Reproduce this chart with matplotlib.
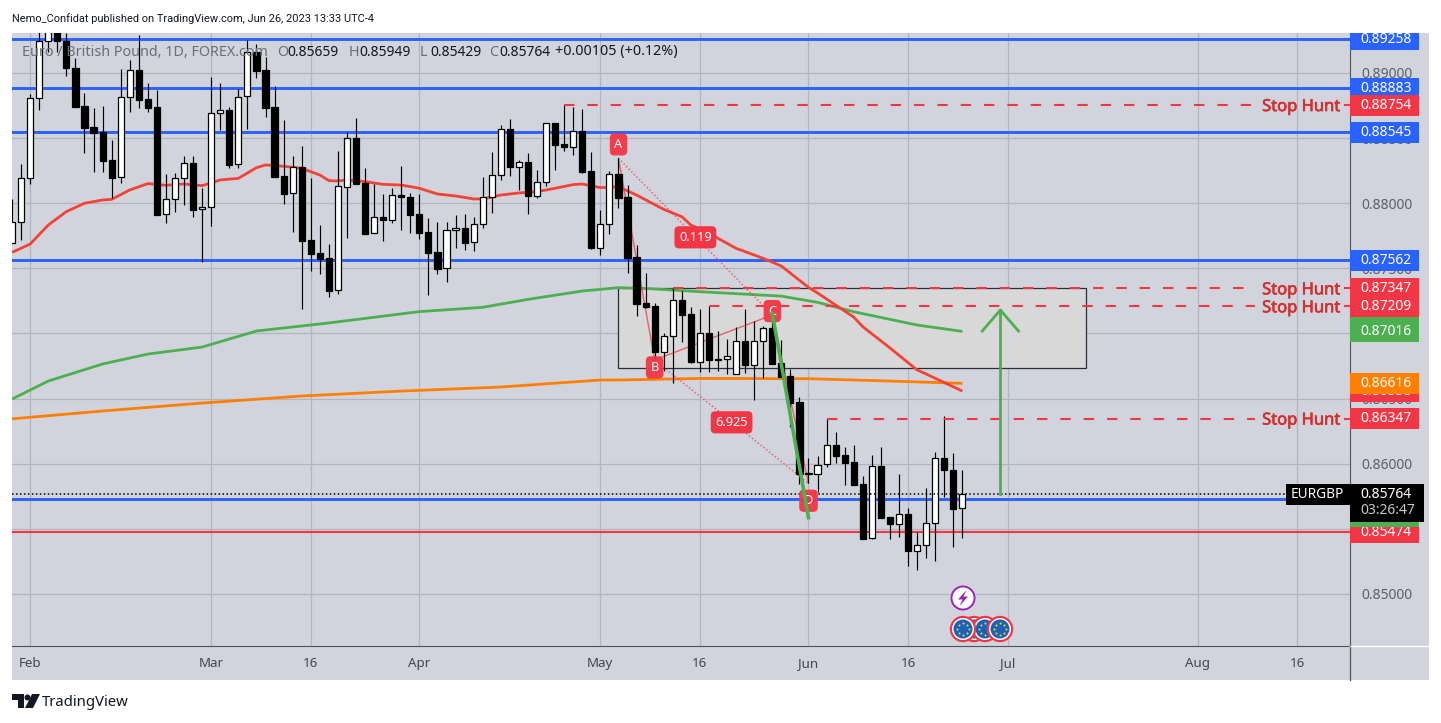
#!/usr/bin/env python3
"""EUR/GBP daily chart, TradingView style."""
import matplotlib
matplotlib.use("Agg")
import matplotlib.patheffects as pe  # noqa: E402
import matplotlib.pyplot as plt  # noqa: E402
from matplotlib.patches import Circle, Polygon, Rectangle  # noqa: E402
import numpy as np  # noqa: E402
import pandas as pd  # noqa: E402

W, H = 1441, 723
BG = "#D1D4DC"
GRID = "#B2B5BE"
AXIS = "#50535E"
BLUE = "#2962FF"
RED = "#F23645"
GREEN = "#4CAF50"
ORANGE = "#FF7F00"
FONT = "Noto Sans"

# all prices below in 1e-5 (pips / 10)
bar_open = [87692, 87854, 88191, 88806, 89243, 89330, 89243, 89036, 88744, 88583, 88547, 88330, 88199, 88813,
            89021, 88798, 88737, 87915, 88030, 88191, 88307, 87953, 87969, 88690, 88714, 88299, 88821, 89159,
            89021, 88737, 88209, 88076, 88278, 87718, 87618, 87580, 87334, 88127, 88498, 88153, 87769, 87892,
            87869, 88066, 88045, 87915, 87777, 87623, 87500, 87792, 87807, 87700, 87838, 88045, 88214, 88568,
            88281, 88314, 88058, 88161, 88614, 88452, 88434, 88552, 88245, 87659, 87838, 88222, 88045, 87585,
            87232, 87209, 86860, 86978, 87254, 87147, 86783, 87001, 86801, 86801, 86686, 86939, 86760, 86939,
            87039, 86770, 86671, 86471, 85926, 85918, 85995, 86141, 86064, 86010, 85842, 85427, 85980, 85588,
            85540, 85611, 85332, 85373, 85542, 86041, 85952, 85659]
bar_high = [88033, 88302, 88839, 89380, 89400, 89420, 89305, 89113, 88844, 88729, 88747, 88486, 89028, 89100,
            89292, 88921, 88870, 88225, 88235, 88363, 88363, 88120, 88967, 88921, 88737, 88875, 89253, 89223,
            89126, 88900, 88639, 88363, 88440, 88194, 87833, 87687, 88401, 88550, 88652, 88268, 88148, 88071,
            88115, 88286, 88076, 88068, 87884, 87856, 87856, 87907, 87918, 87895, 88199, 88394, 88601, 88647,
            88332, 88383, 88255, 88614, 88614, 88754, 88736, 88721, 88394, 87948, 88248, 88345, 88140, 87680,
            87465, 87232, 87001, 87346, 87328, 87200, 87185, 87213, 87019, 86955, 87047, 87185, 87095, 87057,
            87142, 86950, 86730, 86509, 86041, 86059, 86353, 86241, 86126, 86141, 85906, 86067, 86128, 85588,
            85921, 85657, 85478, 85811, 86090, 86366, 86082, 85949]
bar_low = [87692, 87718, 88148, 88716, 89164, 89164, 88980, 88742, 88389, 88243, 88243, 88038, 88158, 88703,
           88729, 88703, 87907, 87846, 87936, 87987, 87897, 87552, 87828, 88563, 88273, 88273, 88573, 88964,
           88665, 88204, 87994, 87782, 87191, 87483, 87457, 87283, 87303, 87731, 88150, 87766, 87769, 87713,
           87851, 87795, 87774, 87723, 87298, 87460, 87398, 87659, 87641, 87634, 87810, 87928, 88179, 88209,
           88102, 87918, 88043, 88133, 88255, 88401, 88370, 88235, 87651, 87603, 87764, 87966, 87467, 87137,
           87193, 86797, 86712, 86622, 86937, 86776, 86707, 86707, 86714, 86689, 86686, 86694, 86489, 86660,
           86768, 86668, 86284, 85842, 85849, 85785, 85977, 86008, 85836, 85839, 85419, 85419, 85586, 85419,
           85440, 85217, 85184, 85279, 85256, 85742, 85363, 85429]
bar_close = [87854, 88191, 88806, 89243, 89330, 89243, 89036, 88742, 88580, 88542, 88327, 88197, 88813, 89021,
             88795, 88734, 87913, 88030, 88191, 88307, 87951, 87969, 88690, 88714, 88296, 88818, 89159, 89018,
             88734, 88204, 88074, 88276, 87713, 87613, 87575, 87329, 88133, 88498, 88150, 87766, 87892, 87869,
             88066, 88045, 87912, 87774, 87621, 87498, 87792, 87807, 87697, 87838, 88045, 88214, 88568, 88281,
             88314, 88058, 88161, 88614, 88447, 88434, 88552, 88240, 87659, 87838, 88222, 88043, 87582, 87229,
             87204, 86861, 86978, 87254, 87144, 86783, 87001, 86799, 86799, 86824, 86939, 86760, 86939, 87039,
             86768, 86668, 86469, 85923, 85921, 85993, 86141, 86062, 86008, 85839, 85424, 85980, 85586, 85540,
             85611, 85332, 85373, 85542, 86041, 85949, 85655, 85764]
FIRST_BAR = "2023-01-30"

tick_dates = ["2023-02-01", "2023-03-01", "2023-03-16", "2023-04-03", "2023-05-01", "2023-05-16",
              "2023-06-01", "2023-06-16", "2023-07-03", "2023-08-01", "2023-08-16"]
tick_labels = ["Feb", "Mar", "16", "Apr", "May", "16", "Jun", "16", "Jul", "Aug", "16"]
price_ticks = [85000, 85500, 86000, 86500, 87000, 87500, 88000, 88500, 89000]

# moving averages: bar number counted from Feb 1
red_ma_bars = [-2, 0, 2, 4, 6, 8, 9, 11, 13, 15, 17, 19, 21, 23, 25, 26, 28, 30, 32, 33, 34, 35, 37, 39, 41, 43, 45,
               47, 49, 50, 52, 54, 56, 58, 60, 61, 63, 65, 67, 70, 72, 73, 75, 78, 81, 83, 86, 87, 91, 92, 95, 98,
               99, 103]
red_ma = [87623, 87687, 87833, 87936, 88000, 88025, 88030, 88102, 88151, 88138, 88148, 88135, 88179, 88191, 88273,
          88294, 88284, 88268, 88217, 88174, 88171, 88179, 88166, 88145, 88140, 88115, 88071, 88056, 88033, 88033,
          88063, 88079, 88089, 88115, 88143, 88148, 88120, 88127, 88063, 87953, 87897, 87833, 87769, 87654, 87577,
          87518, 87354, 87311, 87126, 87052, 86889, 86720, 86689, 86558]
green_ma_bars = [-2, 2, 8, 13, 19, 25, 33, 43, 50, 55, 61, 65, 68, 74, 83, 87, 91, 98, 103]
green_ma = [86497, 86635, 86766, 86842, 86896, 87019, 87081, 87168, 87201, 87262, 87326, 87352, 87346, 87321,
            87287, 87239, 87167, 87065, 87016]
orange_ma_bars = [-2, 8, 19, 30, 41, 52, 63, 65, 74, 86, 95, 103]
orange_ma = [86345, 86405, 86466, 86520, 86558, 86589, 86643, 86643, 86655, 86653, 86635, 86617]

blue_levels = [89258, 88883, 88545, 87562, 85729]
support_level = 85474
last_price = 85764

stop_hunt_levels = [88754, 87347, 87209, 86347]
stop_hunt_bars = [59, 71, 75, 88]

box_bars = [65, 116.7]
box_prices = [86735, 87347]

abcd_bars = [65, 69, 82, 86]
abcd_prices = [88345, 86797, 87142, 85849]
abcd_names = ["A", "B", "C", "D"]
abcd_label_prices = [88452, 86740, 87172, 85716]
ratio_labels = ["0.119", "6.925"]

drop_bars = [82, 86]
drop_prices = [87155, 85586]
arrow_bars = [107.2, 107.2]
arrow_prices = [85764, 87180]
arrow_head_bars = [105.2, 107.2, 109.2]
arrow_head_prices = [87019, 87180, 87019]

# (value, colour) in paint order, later ones cover earlier ones
price_tags = [(89258, BLUE), (88883, BLUE), (88754, RED), (88545, BLUE), (87562, BLUE), (87180, GREEN),
              (87016, GREEN), (87347, RED), (87209, RED), (86558, RED), (86616, ORANGE), (86347, RED),
              (85474, RED), (85594, GREEN)]


def pr(v):
    return np.asarray(v) * 1e-5


bars = pd.bdate_range(FIRST_BAR, periods=160)
FEB1 = bars.get_loc(pd.Timestamp("2023-02-01"))
X0, BAR_PX = 30.2, 9.05  # pixel of Feb 1, pixels per bar
PY_SCALE = 13025.0  # pixels per price unit


def b2x(i):
    return np.asarray(i, dtype=float) + FEB1


def px2x(px):
    return (px - X0) / BAR_PX + FEB1


def y2p(y):
    return 0.89 - (y - 73) / PY_SCALE


def rect_px(l, t, r, b):
    return [l / W, 1 - b / H, (r - l) / W, (b - t) / H]


fig = plt.figure(figsize=(W / 100, H / 100), dpi=100, facecolor="white")
fig.add_artist(Rectangle((12 / W, 1 - 680 / H), 1417 / W, 647 / H, transform=fig.transFigure, fc=BG, ec="none", zorder=-5))

ax = fig.add_axes(rect_px(12, 33, 1350, 645.5), facecolor=BG)
ax.set_xlim(px2x(12), px2x(1350))
ax.set_ylim(y2p(645.5), y2p(33))
for s in ("top", "left"):
    ax.spines[s].set_visible(False)
ax.spines["right"].set_color(AXIS)
ax.spines["bottom"].set_color(AXIS)
ax.yaxis.tick_right()
ax.set_yticks(pr(price_ticks))
ax.set_yticklabels([f"{p * 1e-5:.5f}" for p in price_ticks], fontsize=10.0, color="#5D606B", family=FONT)
ax.tick_params(axis="y", length=0, pad=8)
ax.set_xticks([bars.get_loc(pd.Timestamp(d)) for d in tick_dates])
ax.set_xticklabels(tick_labels, fontsize=9.6, color="#434651", family=FONT)
ax.tick_params(axis="x", length=0, pad=8)
ax.grid(color=GRID, lw=0.9, zorder=0)
ax.set_axisbelow(True)

# levels and zone
ax.add_patch(Rectangle((b2x(box_bars[0]), box_prices[0] * 1e-5), box_bars[1] - box_bars[0],
                       (box_prices[1] - box_prices[0]) * 1e-5, fc="#D8D8D8", ec="#2A2E39", lw=0.9, zorder=1))
for lv in blue_levels:
    ax.axhline(lv * 1e-5, color=BLUE, lw=2.1, zorder=2)
ax.axhline(support_level * 1e-5, color=RED, lw=1.5, zorder=2)

# moving averages
ax.plot(b2x(orange_ma_bars), pr(orange_ma), color=ORANGE, lw=2.0, zorder=2.5, solid_capstyle="butt")
ax.plot(b2x(green_ma_bars), pr(green_ma), color=GREEN, lw=2.0, zorder=2.5, solid_capstyle="butt")
ax.plot(b2x(red_ma_bars), pr(red_ma), color="#F44336", lw=2.0, zorder=2.5, solid_capstyle="butt")

# harmonic pattern
ax.plot(b2x(abcd_bars), pr(abcd_prices), color=RED, lw=1.0, alpha=0.75, zorder=2.6)
for a, b in ((0, 2), (1, 3)):
    ax.plot(b2x([abcd_bars[a], abcd_bars[b]]), pr([abcd_prices[a], abcd_prices[b]]), color=RED, lw=1.1, alpha=0.7,
            ls=(0, (1, 1.4)), zorder=2.6)

# candles
xs = np.arange(len(bar_open))
o, h, l, c = pr(bar_open), pr(bar_high), pr(bar_low), pr(bar_close)
ax.vlines(xs, l, h, color="black", lw=0.85, zorder=3)
up = c >= o
ax.bar(xs, np.abs(c - o), bottom=np.minimum(o, c), width=0.68, color=np.where(up, "white", "black"),
       edgecolor="black", lw=0.9, zorder=3.1)

ax.plot(b2x(drop_bars), pr(drop_prices), color=GREEN, lw=2.6, zorder=3.8)
ax.plot(b2x(arrow_bars), pr(arrow_prices), color=GREEN, lw=2.0, zorder=3.8)
ax.plot(b2x(arrow_head_bars), pr(arrow_head_prices), color=GREEN, lw=2.0, zorder=3.8)
ax.hlines(last_price * 1e-5, px2x(12), px2x(1286), color="black", lw=1.1, ls=(0, (1, 1.6)), zorder=3.2)

# stop hunt lines, broken around their text
for lv, start in zip(stop_hunt_levels, stop_hunt_bars):
    p = lv * 1e-5
    ax.plot([b2x(start), px2x(1255)], [p, p], color=RED, lw=1.5, ls=(0, (5, 6.2)), zorder=3.4)
    ax.plot([px2x(1345), px2x(1350)], [p, p], color=RED, lw=1.5, zorder=3.4)
    ax.text(px2x(1301), p, "Stop Hunt", color="#D32F2F", fontsize=11.9, family=FONT,
            ha="center", va="center_baseline", zorder=3.5,
            path_effects=[pe.withStroke(linewidth=0.45, foreground="#D32F2F")])

# pattern labels
for bar_no, lp, name in zip(abcd_bars, abcd_label_prices, abcd_names):
    ax.text(b2x(bar_no), lp * 1e-5, name, color="white", fontsize=9.2, family=FONT, ha="center", va="center",
            zorder=3.6, bbox=dict(boxstyle="round,pad=0.36,rounding_size=0.35", fc=RED, ec="none", alpha=0.95))
for (a, b), txt in zip(((0, 2), (1, 3)), ratio_labels):
    ax.text(b2x((abcd_bars[a] + abcd_bars[b]) / 2), (abcd_prices[a] + abcd_prices[b]) * 0.5e-5 - 0.00005, txt,
            color="white", fontsize=9.2, family=FONT, ha="center", va="center", zorder=3.6,
            bbox=dict(boxstyle="round,pad=0.36,rounding_size=0.35", fc=RED, ec="none"))

# price scale tags
axp = fig.add_axes(rect_px(1350, 33, 1429, 645.5), frameon=False, zorder=5)
axp.set_xlim(0, 79)
axp.set_ylim(ax.get_ylim())
axp.set_xticks([])
axp.set_yticks([])
TAG_H = 21 / PY_SCALE
for n, (value, col) in enumerate(price_tags):
    p = value * 1e-5
    axp.add_patch(Rectangle((0, p - TAG_H / 2), 69, TAG_H, fc=col, ec="none", zorder=10 + 2 * n))
    axp.text(10, p, f"{p:.5f}", color="white", fontsize=10.0, family=FONT, va="center", clip_on=True, zorder=11 + 2 * n)

# overlay in pixels: title, legend, icons, footer
ov = fig.add_axes([0, 0, 1, 1], frameon=False, zorder=6)
ov.set_xlim(0, W)
ov.set_ylim(H, 0)
ov.axis("off")

ov.text(12, 19, "Nemo_Confidat published on TradingView.com, Jun 26, 2023 13:33 UTC-4",
        family="Roboto", fontsize=7.95, color="#131722", va="center")
ov.text(22, 52, "Euro / British Pound, 1D, FOREX.com", family=FONT, fontsize=10.3, color="#6A6D78", va="center")
for x, k, val in ((277, "O", "0.85659"), (349, "H", "0.85949"), (420, "L", "0.85429"), (489, "C", "0.85764")):
    ov.text(x, 52, k, family=FONT, fontsize=10.3, color="#6A6D78", va="center")
    ov.text(x + 10, 52, val, family=FONT, fontsize=10.0, color="#131722", va="center")
ov.text(555, 52, "+0.00105 (+0.12%)", family=FONT, fontsize=10.3, color="#131722", va="center")

# axis lines that run past the plot
ov.plot([1350, 1350], [645, 680], color=AXIS, lw=0.9)
ov.plot([1350, 1429], [645.5, 645.5], color="white", lw=1.0)

# last price block
ov.add_patch(Rectangle((1286, 484), 64, 21, fc="black", ec="none"))
ov.add_patch(Rectangle((1350, 484), 74, 38, fc="black", ec="none"))
ov.text(1291, 494, "EURGBP", color="white", family=FONT, fontsize=9.8, va="center")
ov.text(1360, 494, "0.85764", color="white", family=FONT, fontsize=10.0, va="center")
ov.text(1360, 511, "03:26:47", color="#C8C8C8", family=FONT, fontsize=10.0, va="center")


def flag(cx, cy=629):
    ov.add_patch(Circle((cx, cy), 13.2, fc="#F23645", ec="none"))
    ov.add_patch(Circle((cx, cy), 11, fc="white", ec="none"))
    ov.add_patch(Circle((cx, cy), 9.5, fc="#1B62B5", ec="none"))
    ang = np.arange(8) * np.pi / 4
    ov.scatter(cx + 6 * np.cos(ang), cy + 6 * np.sin(ang), s=2.2, color="#F2D13C", linewidths=0)


for cx in (974, 985, 1000, 963):
    flag(cx)
ov.add_patch(Circle((963, 598), 13, fc="white", ec="none"))
ov.add_patch(Circle((963, 598), 11.6, fc="white", ec="#9C27B0", lw=1.5))
ov.add_patch(Polygon([(966.5, 590), (958, 599.5), (962.5, 599.5), (959.5, 606), (968, 596.5), (963.5, 596.5)],
                     fc="#9C27B0", ec="none"))

# TradingView footer logo
ov.add_patch(Polygon([(12, 694), (24, 694), (24, 708), (18, 708), (18, 700), (12, 700)], fc="#131722", ec="none"))
ov.add_patch(Circle((27.5, 697.5), 3, fc="#131722", ec="none"))
ov.add_patch(Polygon([(32, 694), (40, 694), (33, 708), (25, 708)], fc="#131722", ec="none"))
ov.text(42, 702, "TradingView", family=FONT, fontsize=10.7, color="#131722", va="center")

fig.savefig("out.png", dpi=100)
